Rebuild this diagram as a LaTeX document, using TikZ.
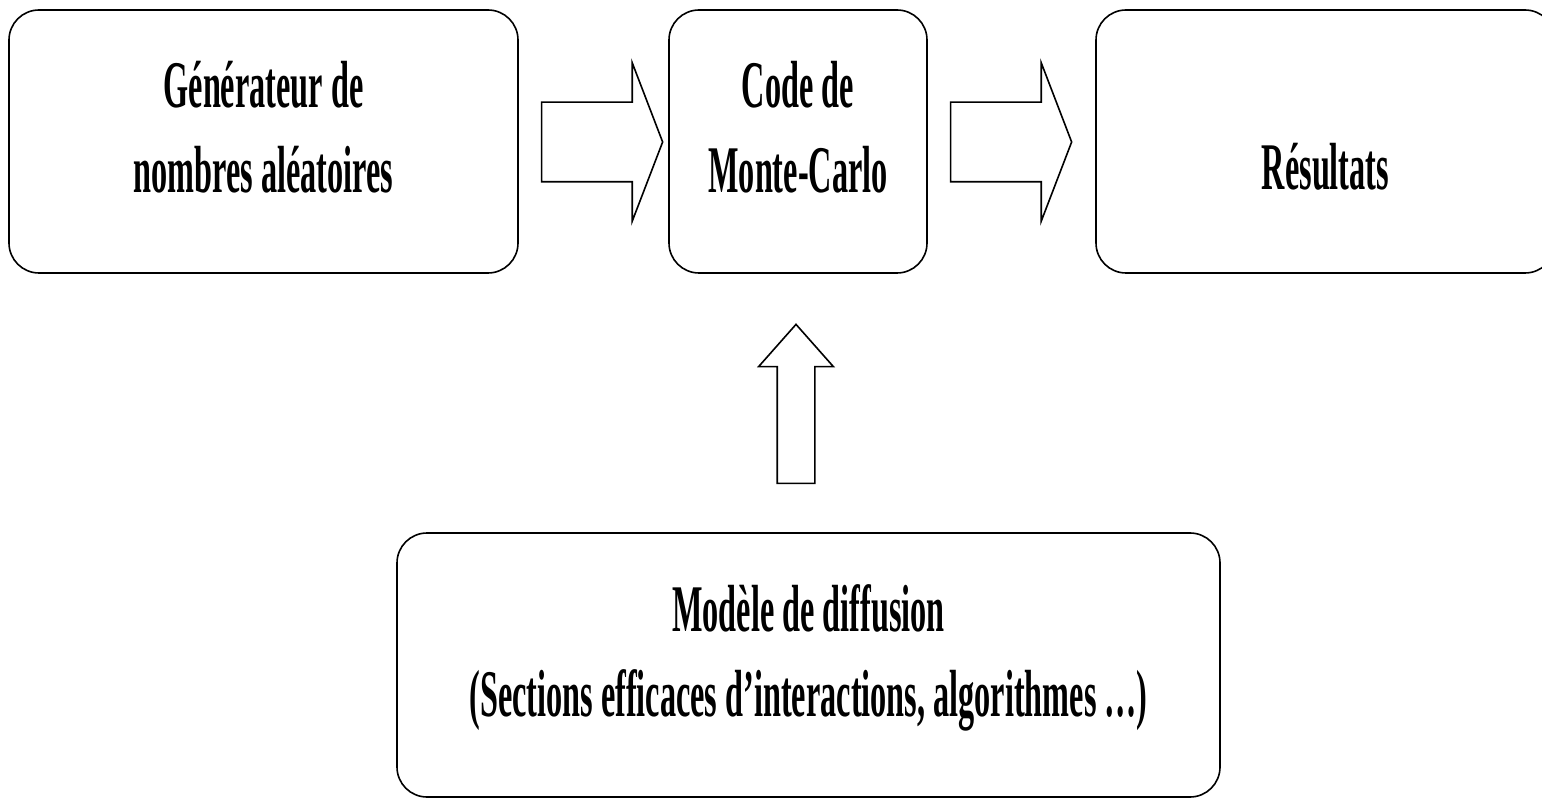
\documentclass[tikz,border=0pt]{standalone}
\usepackage{fontspec}
\setmainfont{Liberation Serif}[FakeStretch=0.484]
\usetikzlibrary{shapes.arrows}

\tikzset{every picture/.style={line width=1.2pt}}
\tikzset{
  roundbox/.style={draw, rounded corners=22.5pt, align=center, inner sep=0pt,
    minimum height=197.25pt, font=\fontsize{50}{64}\selectfont\bfseries,
    text height=93pt, text depth=15.75pt},
  blockarrow/.style={draw, single arrow, inner xsep=0pt}
}

\begin{document}
\begin{tikzpicture}[x=0.75pt,y=0.75pt,yscale=-1,xscale=1]
\useasboundingbox (0,0) rectangle (1542,798);

%Shape: Rounded Rect
\node[roundbox, minimum width=381.75pt] (gen) at (263.5,141.5) {Générateur de\\nombres aléatoires};
%Shape: Rounded Rect
\node[roundbox, minimum width=193.5pt] (mc) at (798,141.5) {Code de\\Monte-Carlo};
%Shape: Rounded Rect
\node[roundbox, minimum width=344.25pt, text height=72.75pt, text depth=0pt] (res) at (1325.5,141.5) {Résultats};
%Shape: Rounded Rect
\node[roundbox, minimum width=617.25pt, minimum height=198pt] (mod) at (808.5,665) {Modèle de diffusion\\(Sections efficaces d’interactions, algorithmes …)};

%Right Arrow
\node[blockarrow, minimum height=90.75pt, inner ysep=29.25pt,
  single arrow head extend=29.6pt, single arrow tip angle=138] (genmc) at (594.5,142) {};
%Right Arrow
\node[blockarrow, minimum height=90.75pt, inner ysep=29.25pt,
  single arrow head extend=29.6pt, single arrow tip angle=138] (mcres) at (1003.5,142) {};
%Up Arrow
\node[blockarrow, shape border rotate=90, minimum height=119.25pt, inner xsep=13.5pt, inner ysep=0pt,
  single arrow head extend=13.9pt, single arrow tip angle=83] (modmc) at (796,414.5) {};

\end{tikzpicture}
\end{document}
